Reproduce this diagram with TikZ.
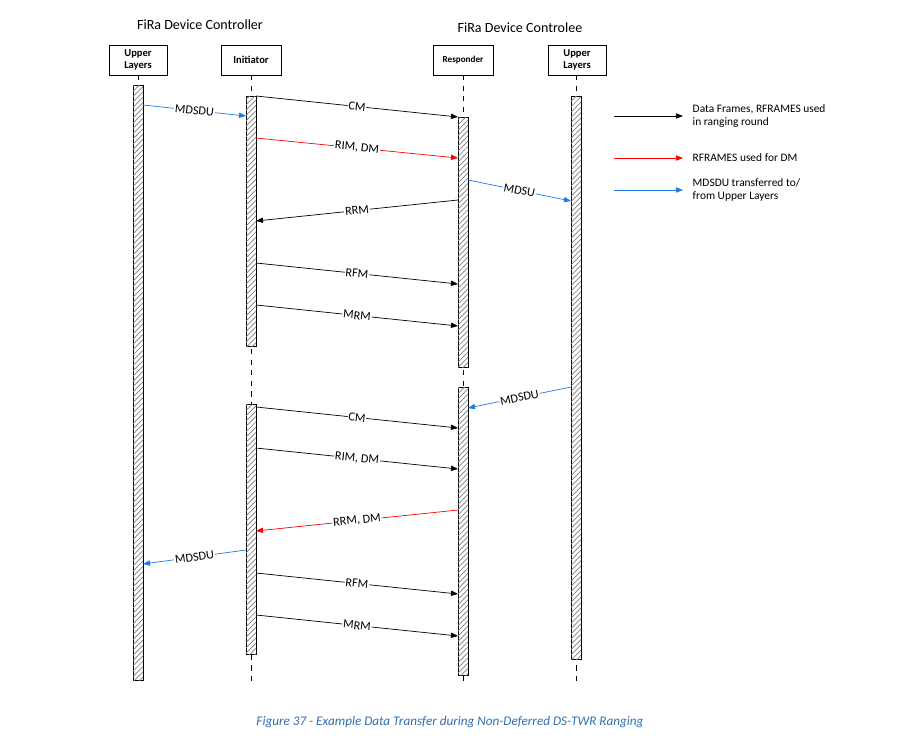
\documentclass[tikz,border=0pt]{standalone}
\usepackage{fontspec}
\setmainfont{Carlito}
\usetikzlibrary{arrows.meta,patterns}
\definecolor{mdblue}{RGB}{30,120,230}
\definecolor{capblue}{RGB}{50,110,180}
\begin{document}
\begin{tikzpicture}[x=0.02cm, y=-0.02cm,
    head/.style={font=\bfseries\fontsize{6}{6.5}\selectfont, align=center, inner sep=0pt},
    bar/.style={draw, fill=white, postaction={pattern=north east lines, pattern color=gray}},
    life/.style={dashed, thin},
    msg/.style={-{Triangle[length=4pt,width=3pt]}, thin},
    lbl/.style={pos=0.5, sloped, fill=white, inner sep=0.5pt, font=\fontsize{7}{8}\selectfont}]
    \useasboundingbox (0,0) rectangle (900,741);
    % titles
    \node (ctrl) at (200,25) {\fontsize{8}{9}\selectfont FiRa Device Controller};
    \node (ctle) at (520,28) {\fontsize{8}{9}\selectfont FiRa Device Controlee};
    % header boxes
    \draw (109,45) rectangle node[head] (ul) {Upper\\Layers} (167,75);
    \draw (221,45) rectangle node[head] (ini) {Initiator} (281,75);
    \draw (433,45) rectangle node[head, font=\bfseries\fontsize{5.2}{6}\selectfont] (res) {Responder} (493,75);
    \draw (548,45) rectangle node[head] (ur) {Upper\\Layers} (606,75);
    % lifelines
    \foreach \x in {138,251,463,576}
        \draw[life] (\x,75) -- (\x,682);
    % activation bars
    \draw[bar] (133,85) rectangle (143,680);
    \draw[bar] (246,96) rectangle (256,346);
    \draw[bar] (246,404) rectangle (256,654);
    \draw[bar] (458,117) rectangle (468,367);
    \draw[bar] (458,387) rectangle (468,675);
    \draw[bar] (571,96) rectangle (581,659);
    % messages
    \foreach \i/\a/\b/\c/\d/\col/\t in {
        1/143/105/246/116/mdblue/MDSDU,
        2/256/96/458/117/black/CM,
        3/256/138/458/158/red/{RIM, DM},
        4/468/180/571/201/mdblue/MDSU,
        5/458/200/256/221/black/RRM,
        6/256/263/458/284/black/RFM,
        7/256/305/458/326/black/MRM,
        8/571/387/468/408/mdblue/MDSDU,
        9/256/407/458/428/black/CM,
        10/256/448/458/469/black/{RIM, DM},
        11/458/510/256/531/red/{RRM, DM},
        12/246/550/143/564/mdblue/MDSDU,
        13/256/573/458/594/black/RFM,
        14/256/615/458/636/black/MRM}{
        \coordinate (m\i s) at (\a,\b);
        \coordinate (m\i e) at (\c,\d);
        \draw[msg, \col] (m\i s) -- node[lbl, text=black] (m\i l) {\t} (m\i e);
    }
    % legend
    \foreach \i/\y/\col/\t in {1/116/black/{Data Frames, RFRAMES used\\in ranging round},
        2/158/red/{RFRAMES used for DM},
        3/190/mdblue/{MDSDU transferred to/\\from Upper Layers}}{
        \coordinate (k\i s) at (614,\y);
        \coordinate (k\i e) at (683,\y);
        \draw[msg, \col] (k\i s) -- (k\i e);
        \node[anchor=west, align=left, font=\fontsize{6.5}{7.5}\selectfont] (k\i l) at ([xshift=2pt]k\i e) {\t};
    }
    % caption
    \node[text=capblue, font=\itshape\fontsize{7.5}{8}\selectfont] (cap) at (450,722)
        {Figure 37 - Example Data Transfer during Non-Deferred DS-TWR Ranging};
\end{tikzpicture}
\end{document}
